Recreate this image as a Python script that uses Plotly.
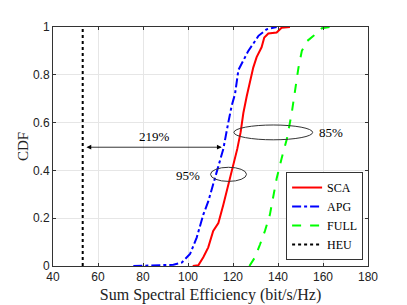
import plotly.graph_objects as go

# Data
sca_x = [102.1, 104.6, 106.8, 109.0, 111.2, 113.5, 115.7, 117.9, 120.1, 121.9, 123.4, 124.6,
         126.1, 127.6, 129.0, 130.5, 132.7, 133.9, 135.7, 139.4, 141.6, 145.3]
sca_y = [0.0, 0.003, 0.037, 0.078, 0.147, 0.18, 0.256, 0.34, 0.42, 0.49, 0.56, 0.64,
         0.71, 0.78, 0.83, 0.874, 0.915, 0.956, 0.973, 0.977, 0.997, 1.0]

apg_x = [75.7, 93.5, 97.2, 100.9, 103.9, 106.8, 109.0, 111.2, 113.5, 115.7, 117.9, 119.4,
         120.9, 122.4, 124.6, 126.8, 129.0, 131.3, 134.9, 139.4]
apg_y = [0.0, 0.005, 0.014, 0.05, 0.12, 0.215, 0.27, 0.34, 0.41, 0.49, 0.6, 0.67,
         0.72, 0.82, 0.86, 0.9, 0.93, 0.963, 0.99, 1.0]

full_x = [127.3, 129.8, 132.0, 134.2, 136.4, 137.9, 139.4, 141.6, 143.9, 146.1, 147.6,
          149.1, 150.6, 152.8, 155.8, 159.5, 163.2]
full_y = [0.0, 0.037, 0.09, 0.147, 0.215, 0.3, 0.366, 0.45, 0.53, 0.64, 0.737,
          0.83, 0.9, 0.94, 0.963, 0.995, 1.0]

heu_x = [53.2, 53.2]
heu_y = [0.0, 1.0]

x_ticks = [40, 60, 80, 100, 120, 140, 160, 180]
y_ticks = [0, 0.2, 0.4, 0.6, 0.8, 1]
y_tick_labels = ["0", "0.2", "0.4", "0.6", "0.8", "1"]

serif = "Liberation Serif"
sans = "Liberation Sans"

fig = go.Figure()
fig.add_trace(go.Scatter(x=sca_x, y=sca_y, mode="lines", name="SCA",
                         line=dict(color="#ff0000", width=2)))
fig.add_trace(go.Scatter(x=apg_x, y=apg_y, mode="lines", name="APG",
                         line=dict(color="#0000ff", width=2, dash="dashdot")))
fig.add_trace(go.Scatter(x=full_x, y=full_y, mode="lines", name="FULL",
                         line=dict(color="#00ff00", width=2, dash="dash")))
fig.add_trace(go.Scatter(x=heu_x, y=heu_y, mode="lines", name="HEU",
                         line=dict(color="#000000", width=2, dash="dot")))

# Ellipses
fig.add_shape(type="circle", xref="x", yref="y", x0=110.0, x1=126.0, y0=0.354, y1=0.413,
              line=dict(color="#333333", width=1))
fig.add_shape(type="circle", xref="x", yref="y", x0=120.4, x1=155.4, y0=0.528, y1=0.59,
              line=dict(color="#333333", width=1))

# Double arrow
fig.add_annotation(x=115.0, y=0.497, ax=54.2, ay=0.497, xref="x", yref="y", axref="x", ayref="y",
                   text="", showarrow=True, arrowhead=2, startarrowhead=2, arrowside="end+start",
                   arrowsize=1.2, startarrowsize=1.2, arrowwidth=0.8, arrowcolor="#000000")
fig.add_annotation(x=84.9, y=0.54, xref="x", yref="y", text="219%", showarrow=False,
                   font=dict(family=serif, size=13, color="#000000"))
fig.add_annotation(x=99.8, y=0.38, xref="x", yref="y", text="95%", showarrow=False,
                   font=dict(family=serif, size=13, color="#000000"))
fig.add_annotation(x=163.4, y=0.558, xref="x", yref="y", text="85%", showarrow=False,
                   font=dict(family=serif, size=13, color="#000000"))

fig.update_layout(
    width=407, height=305,
    margin=dict(l=45, r=47, t=15, b=47),
    paper_bgcolor="white", plot_bgcolor="white",
    showlegend=True,
    legend=dict(x=0.74, y=0.025, xanchor="left", yanchor="bottom",
                bgcolor="white", bordercolor="#333333", borderwidth=1,
                font=dict(family=serif, size=12, color="#000000"),
                tracegroupgap=0, itemwidth=30),
    xaxis=dict(range=[40, 180], tickvals=x_ticks, showgrid=True, gridcolor="#e6e6e6",
               showline=True, linecolor="#333333", linewidth=1, mirror="ticks",
               ticks="inside", ticklen=3, tickcolor="#333333", zeroline=False,
               automargin=True,
               tickfont=dict(family=sans, size=12, color="#222222"),
               title=dict(text="Sum Spectral Efficiency (bit/s/Hz)", standoff=5,
                          font=dict(family=serif, size=16, color="#222222"))),
    yaxis=dict(range=[0, 1], tickvals=y_ticks, ticktext=y_tick_labels, showgrid=True,
               gridcolor="#e6e6e6", showline=True, linecolor="#333333", linewidth=1,
               mirror="ticks", ticks="inside", ticklen=3, tickcolor="#333333", zeroline=False,
               automargin=True,
               tickfont=dict(family=sans, size=12, color="#222222"),
               title=dict(text="CDF", standoff=0,
                          font=dict(family=serif, size=15, color="#222222"))),
)

fig.write_html("out.html")
